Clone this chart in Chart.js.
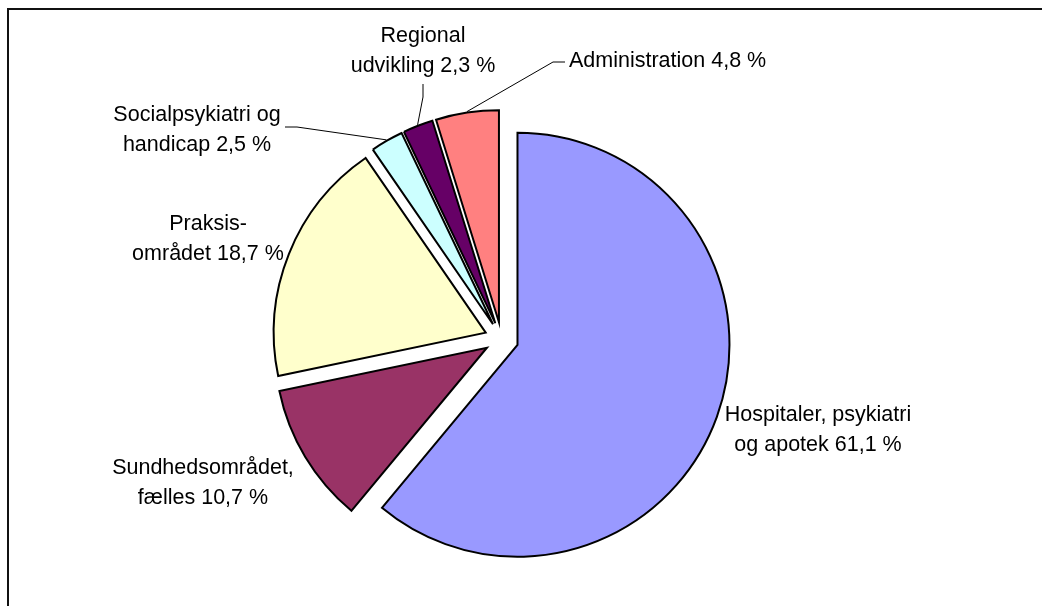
<!DOCTYPE html>
<html>
<head>
<meta charset="utf-8">
<script src="https://cdn.jsdelivr.net/npm/chart.js@4.4.1/dist/chart.umd.min.js"></script>
<style>
    body { margin: 0; background: #fff; overflow: hidden; }
    .frame {
        position: absolute; left: 7px; top: 8px; width: 1200px; height: 800px;
        border-left: 2px solid #111; border-top: 2px solid #111;
    }
    .wrap { position: absolute; left: 0; top: 0; width: 1042px; height: 606px; }
</style>
</head>
<body>
<div class="frame"></div>
<div class="wrap"><canvas id="pie"></canvas></div>
<script>
const categories = [
    'Hospitaler, psykiatri og apotek',
    'Sundhedsområdet, fælles',
    'Praksisområdet',
    'Socialpsykiatri og handicap',
    'Regional udvikling',
    'Administration'
];
const values = [61.1, 10.7, 18.7, 2.5, 2.3, 4.8];
const labelLines = [
    ['Hospitaler, psykiatri', 'og apotek'],
    ['Sundhedsområdet,', 'fælles'],
    ['Praksis-', 'området'],
    ['Socialpsykiatri og', 'handicap'],
    ['Regional', 'udvikling'],
    ['Administration']
];
const sliceColors = ['#9999ff', '#993366', '#ffffcc', '#ccffff', '#660066', '#ff8080'];

const EXPLODE = 17;
const FONT = '21.5px "Liberation Sans", Arial, sans-serif';
const LINE_GAP = 30;

// label placement: centre x, first baseline y, optional leader elbow
const labelPos = [
    { x: 818, y: 421 },
    { x: 203, y: 474 },
    { x: 208, y: 230 },
    { x: 197, y: 121, leader: [[285, 127], [297, 127]] },
    { x: 423, y: 42, leader: [[423, 84], [423, 97]] },
    { x: 668, y: 67, align: 'left', leader: [[565, 62], [553, 62]] }
];

function formatValue(v) {
    return v.toFixed(1).replace('.', ',') + ' %';
}

// push every slice out along its middle angle
const explodePlugin = {
    id: 'explode',
    afterUpdate(chart) {
        chart.getDatasetMeta(0).data.forEach(arc => {
            const mid = (arc.startAngle + arc.endAngle) / 2;
            arc.x += Math.cos(mid) * EXPLODE;
            arc.y += Math.sin(mid) * EXPLODE;
        });
    }
};

const labelPlugin = {
    id: 'sliceLabels',
    afterDatasetsDraw(chart) {
        const ctx = chart.ctx;
        const arcs = chart.getDatasetMeta(0).data;
        ctx.save();
        ctx.font = FONT;
        ctx.fillStyle = '#000';
        ctx.strokeStyle = '#000';
        ctx.lineWidth = 1;
        ctx.textBaseline = 'alphabetic';
        labelPos.forEach((p, i) => {
            const lines = labelLines[i].slice();
            lines[lines.length - 1] += ' ' + formatValue(values[i]);
            if (p.align === 'left') {
                ctx.textAlign = 'left';
                lines.forEach((t, k) => ctx.fillText(t, p.leader[0][0] + 4, p.y + k * LINE_GAP));
            } else {
                ctx.textAlign = 'center';
                lines.forEach((t, k) => ctx.fillText(t, p.x, p.y + k * LINE_GAP));
            }
            if (p.leader) {
                const arc = arcs[i];
                const mid = (arc.startAngle + arc.endAngle) / 2;
                const ex = arc.x + Math.cos(mid) * (arc.outerRadius + 1);
                const ey = arc.y + Math.sin(mid) * (arc.outerRadius + 1);
                ctx.beginPath();
                ctx.moveTo(p.leader[0][0], p.leader[0][1]);
                ctx.lineTo(p.leader[1][0], p.leader[1][1]);
                ctx.lineTo(ex, ey);
                ctx.stroke();
            }
        });
        ctx.restore();
    }
};

new Chart(document.getElementById('pie'), {
    type: 'pie',
    data: {
        labels: categories,
        datasets: [{
            data: values,
            backgroundColor: sliceColors,
            borderColor: '#000',
            borderWidth: 2,
            borderJoinStyle: 'miter'
        }]
    },
    options: {
        responsive: true,
        maintainAspectRatio: false,
        animation: false,
        radius: 212,
        layout: { padding: { left: 0, right: 39, top: 72, bottom: 0 } },
        plugins: {
            legend: { display: false },
            tooltip: { enabled: false }
        }
    },
    plugins: [explodePlugin, labelPlugin]
});
</script>
</body>
</html>
